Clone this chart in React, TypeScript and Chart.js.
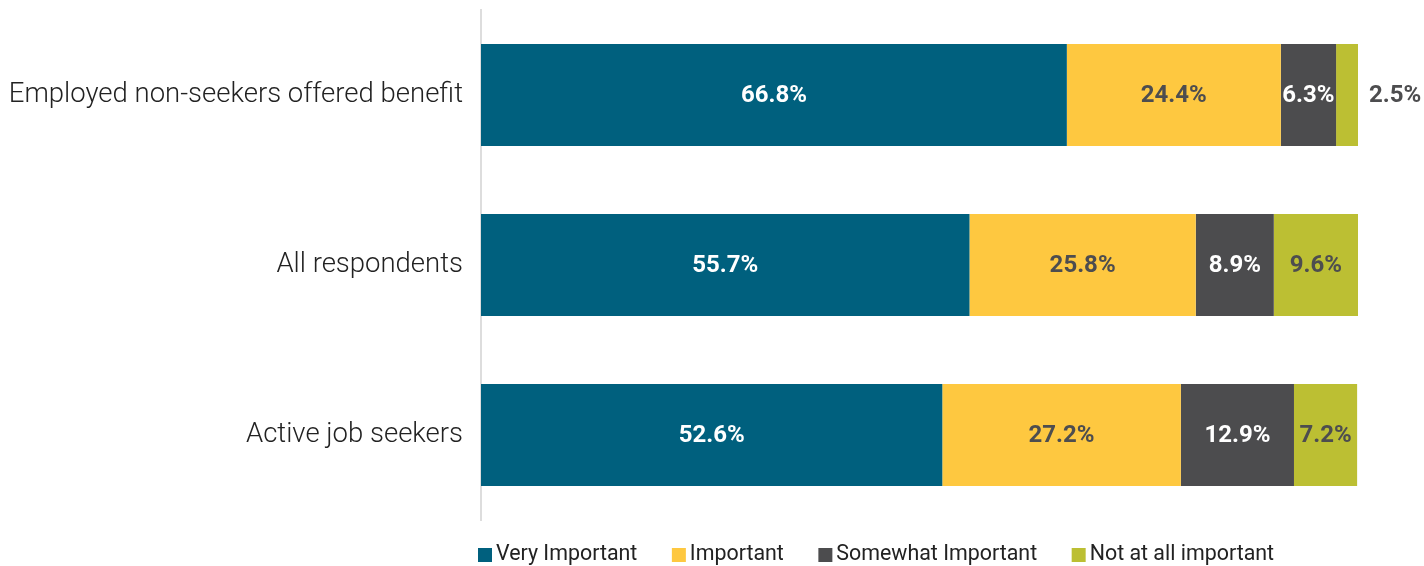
import React, { useEffect, useRef } from "react";
import { Chart, registerables } from "chart.js";

Chart.register(...registerables);

const categories = ["Employed non-seekers offered benefit", "All respondents", "Active job seekers"];
const seriesNames = ["Very Important", "Important", "Somewhat Important", "Not at all important"];
const veryImportant = [66.8, 55.7, 52.6];
const important = [24.4, 25.8, 27.2];
const somewhatImportant = [6.3, 8.9, 12.9];
const notAtAllImportant = [2.5, 9.6, 7.2];
const seriesColors = ["#00607E", "#FEC840", "#4C4C4E", "#BCBF33"];
const labelColors = ["#FFFFFF", "#4D4D4F", "#FFFFFF", "#4D4D4F"];

const FONT = "Roboto, 'Noto Sans', sans-serif";

const dataLabelPlugin = {
  id: "dataLabels",
  afterDatasetsDraw(chart: any) {
    const ctx = chart.ctx;
    ctx.save();
    ctx.font = `bold 24px ${FONT}`;
    ctx.textBaseline = "middle";
    chart.data.datasets.forEach((ds: any, di: number) => {
      const meta = chart.getDatasetMeta(di);
      meta.data.forEach((bar: any, i: number) => {
        const v = ds.data[i];
        const text = `${v.toFixed(1)}%`;
        const w = ctx.measureText(text).width;
        const left = bar.base;
        const right = bar.x;
        const width = right - left;
        if (width >= w - 2) {
          ctx.textAlign = "center";
          ctx.fillStyle = labelColors[di];
          ctx.fillText(text, (left + right) / 2, bar.y + 1);
        } else {
          ctx.textAlign = "left";
          ctx.fillStyle = "#4D4D4F";
          ctx.fillText(text, right + 11, bar.y + 1);
        }
      });
    });
    ctx.restore();
  },
};

const legendPlugin = {
  id: "customLegend",
  afterDraw(chart: any) {
    const ctx = chart.ctx;
    const area = chart.chartArea;
    ctx.save();
    ctx.font = `21.4px ${FONT}`;
    ctx.textBaseline = "middle";
    ctx.textAlign = "left";
    let x = area.left - 3;
    const yMid = 555;
    const box = 14;
    chart.data.datasets.forEach((ds: any) => {
      ctx.fillStyle = ds.backgroundColor;
      ctx.fillRect(x, yMid - box / 2, box, box);
      x += box + 4;
      ctx.fillStyle = "#222222";
      ctx.fillText(ds.label, x, yMid);
      x += ctx.measureText(ds.label).width + 34.5;
    });
    ctx.restore();
  },
};

export default function App() {
  const ref = useRef<HTMLCanvasElement | null>(null);

  useEffect(() => {
    document.body.style.margin = "0";
    if (!ref.current) return;
    const seriesValues = [veryImportant, important, somewhatImportant, notAtAllImportant];
    const chart = new Chart(ref.current, {
      type: "bar",
      data: {
        labels: categories,
        datasets: seriesValues.map((vals, i) => ({
          label: seriesNames[i],
          data: vals,
          backgroundColor: seriesColors[i],
          borderWidth: 0,
          barPercentage: 0.6,
          categoryPercentage: 1,
        })),
      },
      options: {
        indexAxis: "y",
        responsive: false,
        animation: false,
        maintainAspectRatio: false,
        layout: { padding: { top: 10, bottom: 46, right: 66, left: 0 } },
        plugins: {
          legend: { display: false },
          tooltip: { enabled: false },
        },
        scales: {
          x: {
            stacked: true,
            min: 0,
            max: 100,
            display: false,
          },
          y: {
            stacked: true,
            grid: { display: false },
            border: { display: true, color: "#DDDDDD", width: 2 },
            ticks: {
              padding: 10,
              color: "#222222",
              font: { family: FONT, size: 27.5, weight: "300" as any },
            },
            afterFit: (scale: any) => {
              scale.width = 481;
              scale.paddingTop = 0;
              scale.paddingBottom = 0;
            },
          },
        },
      },
      plugins: [dataLabelPlugin, legendPlugin],
    });
    return () => chart.destroy();
  }, []);

  return (
    <div style={{ width: 1424, height: 566 }}>
      <canvas ref={ref} width={1424} height={566} style={{ display: "block" }} />
    </div>
  );
}
